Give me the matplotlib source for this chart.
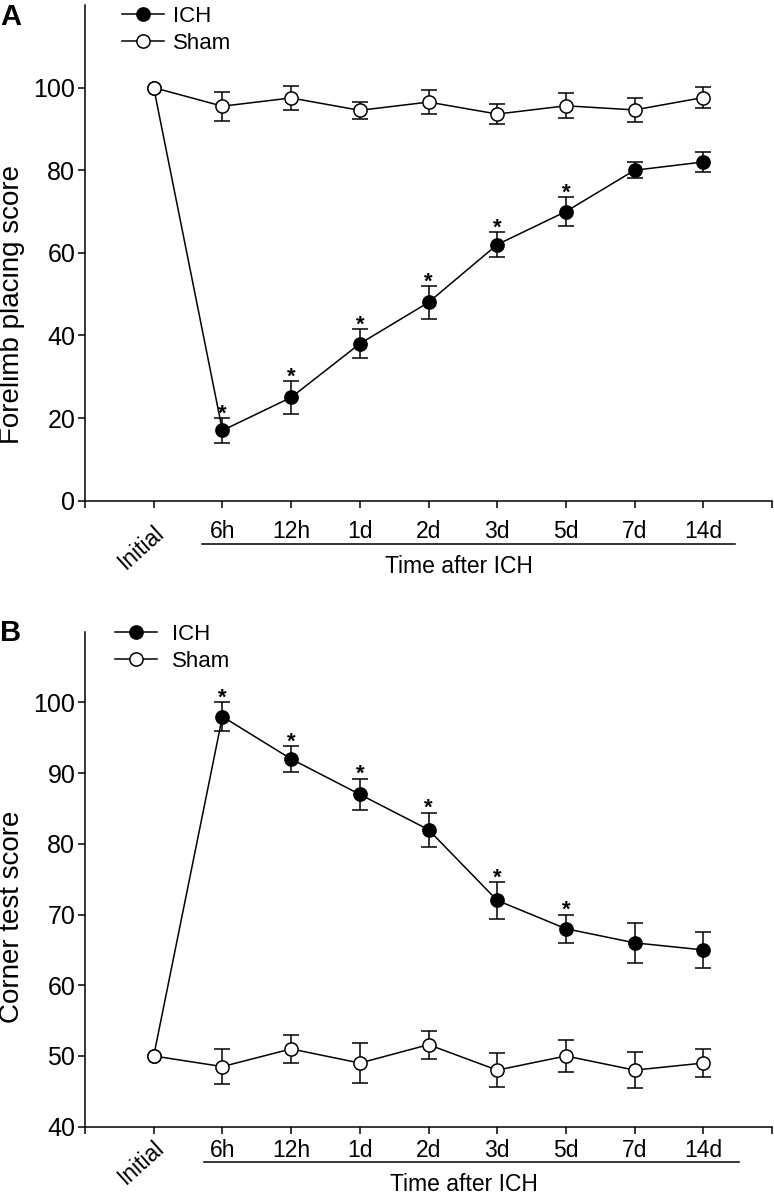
import matplotlib
matplotlib.use('Agg')
import matplotlib.pyplot as plt

plt.rcParams['font.family'] = ['Liberation Sans', 'DejaVu Sans']

# ---------------- data ----------------
time_labels = ['Initial', '6h', '12h', '1d', '2d', '3d', '5d', '7d', '14d']

a_ich = [100, 17, 25, 38, 48, 62, 70, 80, 82]
a_ich_err = [0, 3, 4, 3.5, 4, 3, 3.4, 2, 2.5]
a_sham = [100, 95.5, 97.5, 94.5, 96.5, 93.6, 95.6, 94.6, 97.6]
a_sham_err = [0, 3.5, 3, 2, 3, 2.5, 3, 3, 2.5]
a_sig = [False, True, True, True, True, True, True, False, False]

b_ich = [50, 98, 92, 87, 82, 72, 68, 66, 65]
b_ich_err = [0, 2, 1.8, 2.2, 2.4, 2.6, 2, 2.8, 2.6]
b_sham = [50, 48.5, 51, 49, 51.6, 48, 50, 48, 49]
b_sham_err = [0, 2.5, 2, 2.8, 2, 2.4, 2.3, 2.5, 2]
b_sig = [False, True, True, True, True, True, True, False, False]

W, H = 774, 1196
fig = plt.figure(figsize=(W / 100, H / 100), dpi=100)


def axes_px(left, top, right, bottom):
    return fig.add_axes([left / W, 1 - bottom / H, (right - left) / W, (bottom - top) / H])


xs = list(range(1, len(time_labels) + 1))
LW = 1.1


def draw_panel(ax, ich, ich_err, sham, sham_err, sig, ylim, yticks, ylabel,
               xpad, line_y, line_x, xl_pos, init_pos, ylab_y, leg_anchor, leg_pad):
    # error bars
    ax.errorbar(xs[1:], ich[1:], yerr=ich_err[1:], fmt='none', ecolor='black',
                elinewidth=LW, capsize=6, capthick=LW, zorder=2)
    ax.errorbar(xs[1:], sham[1:], yerr=sham_err[1:], fmt='none', ecolor='black',
                elinewidth=LW, capsize=6, capthick=LW, zorder=2)
    l1, = ax.plot(xs, ich, '-o', color='black', lw=LW, ms=9.5, mfc='black',
                  mec='black', mew=1.1, zorder=3, label='ICH')
    l2, = ax.plot(xs, sham, '-o', color='black', lw=LW, ms=9.5, mfc='white',
                  mec='black', mew=1.1, zorder=4, label='Sham')
    for x, y, e, s in zip(xs, ich, ich_err, sig):
        if s:
            ax.annotate('*', xy=(x, y + e), xytext=(0, -1), textcoords='offset points',
                        ha='center', va='baseline', fontsize=16, fontweight='bold')

    ax.set_xlim(0, 10)
    ax.set_ylim(*ylim)
    ax.set_yticks(yticks)
    ax.set_xticks(range(0, 11))
    ax.set_xticklabels([''] * 2 + time_labels[1:] + [''])
    for sp in ['top', 'right']:
        ax.spines[sp].set_visible(False)
    for sp in ['left', 'bottom']:
        ax.spines[sp].set_linewidth(LW)
    ax.tick_params(axis='both', direction='out', length=5, width=LW)
    ax.tick_params(axis='y', pad=2, labelsize=18)
    ax.tick_params(axis='x', pad=xpad, labelsize=16.5)

    tr = ax.get_xaxis_transform()
    ax.text(init_pos[0], init_pos[1], time_labels[0], transform=tr, rotation=42,
            ha='right', va='top', rotation_mode='anchor', fontsize=16.5)
    ax.plot(line_x, [line_y, line_y], color='black', lw=1.1, transform=tr, clip_on=False)
    ax.text(xl_pos[0], xl_pos[1], 'Time after ICH', transform=tr, ha='center',
            va='center', fontsize=16.5)

    ax.set_ylabel(ylabel, fontsize=20)
    ax.yaxis.set_label_coords(-0.088, ylab_y)

    ax.legend(handles=[l1, l2], loc='upper left', bbox_to_anchor=leg_anchor,
              frameon=False, fontsize=16, handlelength=1.9, handletextpad=leg_pad,
              labelspacing=0.28, borderpad=0, borderaxespad=0)


# Panel A
axA = axes_px(85, 5, 772, 500.7)
draw_panel(axA, a_ich, a_ich_err, a_sham, a_sham_err, a_sig,
           (0, 120), [0, 20, 40, 60, 80, 100], 'Forelimb placing score',
           xpad=9, line_y=-0.0873, line_x=[1.70, 9.46], xl_pos=(5.45, -0.133),
           init_pos=(0.99, -0.041), ylab_y=0.395, leg_anchor=(0.054, 0.998), leg_pad=0.4)

# Panel B
axB = axes_px(85, 631.7, 772, 1126.7)
draw_panel(axB, b_ich, b_ich_err, b_sham, b_sham_err, b_sig,
           (40, 110), [40, 50, 60, 70, 80, 90, 100], 'Corner test score',
           xpad=3.5, line_y=-0.0713, line_x=[1.73, 9.52], xl_pos=(5.52, -0.117),
           init_pos=(0.99, -0.018), ylab_y=0.424, leg_anchor=(0.043, 1.0165), leg_pad=0.7)

fig.text(0 / W, 1 - 3 / H, 'A', fontsize=21, fontweight='bold', ha='left', va='top')
fig.text(0 / W, 1 - 619 / H, 'B', fontsize=21, fontweight='bold', ha='left', va='top')

fig.savefig('out.png', dpi=100)
